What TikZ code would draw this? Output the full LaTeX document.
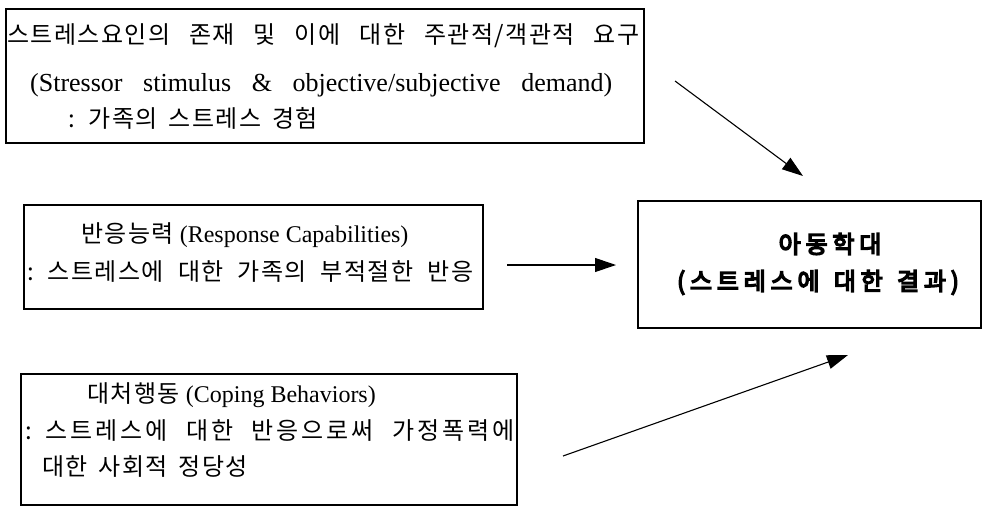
\documentclass[tikz,border=0pt]{standalone}
\usepackage{fontspec}
\setmainfont{Liberation Serif}
\newfontfamily\kr{Noto Sans CJK KR}[LetterSpace=6, WordSpace=1.6]
\newfontfamily\krw{Noto Sans CJK KR}[LetterSpace=12, WordSpace=1.6]
\newfontfamily\krb{Noto Sans CJK KR}[LetterSpace=20, WordSpace=1.4, FakeBold=6]
\newcommand{\K}[1]{{\kr #1}}
\newcommand{\SL}[2]{\makebox[#1][s]{#2}}
\usetikzlibrary{arrows.meta}
\tikzset{
  boxnode/.style={draw, line width=1.6pt, anchor=north west, inner sep=0pt},
  txt/.style={anchor=base west, inner sep=0pt, font=\fontsize{24}{28}\selectfont},
  btxt/.style={anchor=base, inner sep=0pt, font=\fontsize{24}{28}\selectfont\krb},
  arr/.style={line width=1.1pt, -{Triangle[length=21pt,width=14pt]}}
}
\begin{document}
\begin{tikzpicture}[x=1pt,y=-1pt]
\path[use as bounding box] (0,0) rectangle (984,506);
% boxes
\node[boxnode, minimum width=638pt, minimum height=134pt] (b1) at (5,8) {};
\node[boxnode, minimum width=459pt, minimum height=104pt] (b2) at (23,204) {};
\node[boxnode, minimum width=496pt, minimum height=131pt] (b3) at (20,373) {};
\node[boxnode, minimum width=343pt, minimum height=127pt] (b4) at (637,200) {};
% box 1 text
\node[txt] (t11) at (7,43) {\kr\SL{632pt}{스트레스요인의 존재 및 이에 대한 주관적/객관적 요구}};
\node[txt, font=\fontsize{26}{28}\selectfont] (t12) at (30,91) {\SL{582pt}{(Stressor stimulus \& objective/subjective demand)}};
\node[txt] (t13) at (68,127) {\kr :\kern14pt 가족의 스트레스 경험};
% box 2 text
\node[txt] (t21) at (81,242) {\K{반응능력} (Response Capabilities)};
\node[txt] (t22) at (27,280) {\kr\SL{446pt}{:\kern14pt 스트레스에 대한 가족의 부적절한 반응}};
% box 3 text
\node[txt] (t31) at (87,402) {\K{대처행동} (Coping Behaviors)};
\node[txt] (t32) at (25,439) {\krw\SL{489pt}{:\kern14pt 스트레스에 대한 반응으로써 가정폭력에}};
\node[txt] (t33) at (42,475) {\kr 대한 사회적 정당성};
% box 4 text
\node[btxt] (t41) at (830,253) {아동학대};
\node[btxt] (t42) at (818,290) {(스트레스에 대한 결과)};
% arrows
\coordinate (a1s) at (675,81);
\coordinate (a1e) at (803,176);
\coordinate (a2s) at (507,265);
\coordinate (a2e) at (616,265);
\coordinate (a3s) at (563,456);
\coordinate (a3e) at (848,355);
\draw[arr] (a1s) -- (a1e);
\draw[arr] (a2s) -- (a2e);
\draw[arr] (a3s) -- (a3e);
\end{tikzpicture}
\end{document}
